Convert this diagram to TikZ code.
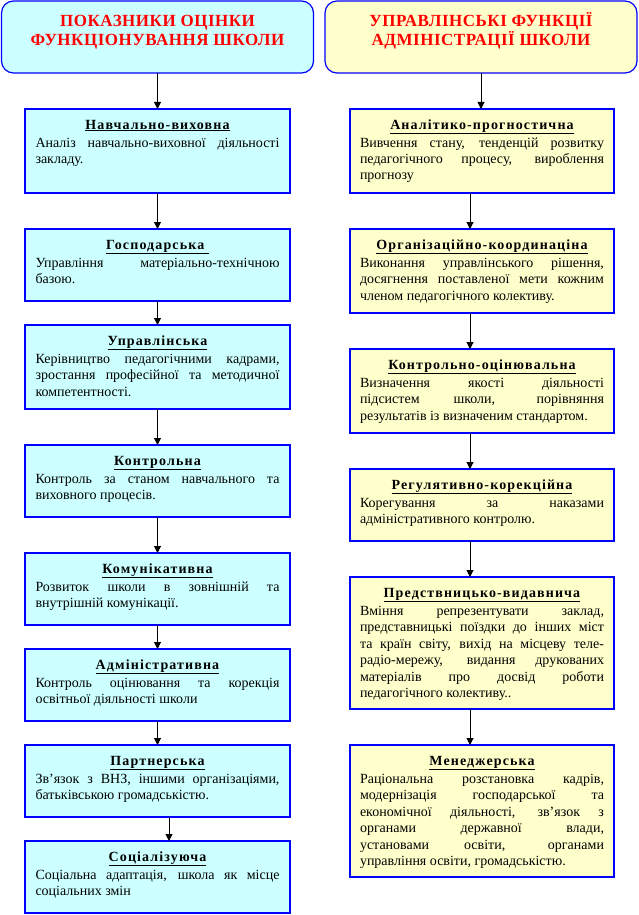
\documentclass[tikz,border=0pt]{standalone}
\usepackage{fontspec}
\setmainfont{Liberation Serif}
\usetikzlibrary{arrows.meta}
\definecolor{bcyan}{HTML}{CCFFFF}
\definecolor{byell}{HTML}{FFFFCC}
\definecolor{bblue}{HTML}{0000FF}
\definecolor{hred}{HTML}{FF0000}
\newcommand\Jl[1]{\makebox[\linewidth][s]{#1}\par}
\newcommand\Ll[1]{#1\par}
\newcommand\Bx[2]{\parbox[t]{244pt}{\fontsize{14pt}{16.5pt}\selectfont\centering{\bfseries\addfontfeature{LetterSpace=8}\underline{#1}}\par\vspace{1.5pt}\raggedright #2}}
\newcommand\Hd[2]{\parbox[t]{305pt}{\fontsize{17pt}{19pt}\selectfont\bfseries\addfontfeature{LetterSpace=3}\centering #1\par #2\par}}
\begin{document}
\begin{tikzpicture}[x=1pt,y=-1pt,
  basebox/.style={draw=bblue,line width=1.2pt,inner sep=0pt,outer sep=0pt},
  boxl/.style={basebox,fill=bcyan,minimum width=265pt},
  boxr/.style={basebox,fill=byell,minimum width=264pt},
  hdr/.style={basebox,rounded corners=12pt,minimum width=312pt,minimum height=72pt},
  txt/.style={anchor=base,inner sep=0pt,outer sep=0pt},
  htxt/.style={anchor=base,inner sep=0pt,text=hred},
  arr/.style={draw=black,line width=1pt,-{Triangle[width=7pt,length=7pt]}}]
\useasboundingbox[fill=white] (0,0) rectangle (638,915);

% headers
\node[hdr,fill=bcyan] (hL) at (157.5,37) {};
\node[htxt] (hLt) at ([yshift=-26pt]hL.north) {\Hd{ПОКАЗНИКИ ОЦІНКИ}{ФУНКЦІОНУВАННЯ ШКОЛИ}};
\node[hdr,fill=byell] (hR) at (481,37) {};
\node[htxt] (hRt) at ([yshift=-26pt]hR.north) {\Hd{УПРАВЛІНСЬКІ ФУНКЦІЇ}{АДМІНІСТРАЦІЇ ШКОЛИ}};

% left column
\node[boxl,minimum height=84pt] (l1) at (157.5,151) {};
\node[txt] (l1t) at ([yshift=-20pt]l1.north) {\Bx{Навчально-виховна}{\Jl{Аналіз навчально-виховної діяльності}\Ll{закладу.}}};
\node[boxl,minimum height=72pt] (l2) at (157.5,265) {};
\node[txt] (l2t) at ([yshift=-20pt]l2.north) {\Bx{Господарська\ }{\Jl{Управління матеріально-технічною}\Ll{базою.}}};
\node[boxl,minimum height=84pt] (l3) at (157.5,367) {};
\node[txt] (l3t) at ([yshift=-20pt]l3.north) {\Bx{Управлінська}{\Jl{Керівництво педагогічними кадрами,}\Jl{зростання професійної та методичної}\Ll{компетентності.}}};
\node[boxl,minimum height=72pt] (l4) at (157.5,481) {};
\node[txt] (l4t) at ([yshift=-20pt]l4.north) {\Bx{Контрольна}{\Jl{Контроль за станом навчального та}\Ll{виховного процесів.}}};
\node[boxl,minimum height=72pt] (l5) at (157.5,589) {};
\node[txt] (l5t) at ([yshift=-20pt]l5.north) {\Bx{Комунікативна}{\Jl{Розвиток школи в зовнішній та}\Ll{внутрішній комунікації.}}};
\node[boxl,minimum height=72pt] (l6) at (157.5,685) {};
\node[txt] (l6t) at ([yshift=-20pt]l6.north) {\Bx{Адміністративна}{\Jl{Контроль оцінювання та корекція}\Ll{освітньої діяльності школи}}};
\node[boxl,minimum height=72pt] (l7) at (157.5,781) {};
\node[txt] (l7t) at ([yshift=-20pt]l7.north) {\Bx{Партнерська}{\Jl{Зв’язок з ВНЗ, іншими організаціями,}\Ll{батьківською громадськістю.}}};
\node[boxl,minimum height=72pt] (l8) at (157.5,877) {};
\node[txt] (l8t) at ([yshift=-20pt]l8.north) {\Bx{Соціалізуюча}{\Jl{Соціальна адаптація, школа як місце}\Ll{соціальних змін}}};

% right column
\node[boxr,minimum height=84pt] (r1) at (482,151) {};
\node[txt] (r1t) at ([yshift=-20pt]r1.north) {\Bx{Аналітико-прогностична}{\Jl{Вивчення стану, тенденцій розвитку}\Jl{педагогічного процесу, вироблення}\Ll{прогнозу}}};
\node[boxr,minimum height=84pt] (r2) at (482,271) {};
\node[txt] (r2t) at ([yshift=-20pt]r2.north) {\Bx{Організаційно-координаціна}{\Jl{Виконання управлінського рішення,}\Jl{досягнення поставленої мети кожним}\Ll{членом педагогічного колективу.}}};
\node[boxr,minimum height=84pt] (r3) at (482,391) {};
\node[txt] (r3t) at ([yshift=-20pt]r3.north) {\Bx{Контрольно-оцінювальна}{\Jl{Визначення якості діяльності}\Jl{підсистем школи, порівняння}\Ll{результатів із визначеним стандартом.}}};
\node[boxr,minimum height=72pt] (r4) at (482,505) {};
\node[txt] (r4t) at ([yshift=-20pt]r4.north) {\Bx{Регулятивно-корекційна}{\Jl{Корегування за наказами}\Ll{адміністративного контролю.}}};
\node[boxr,minimum height=132pt] (r5) at (482,643) {};
\node[txt] (r5t) at ([yshift=-20pt]r5.north) {\Bx{Предствницько-видавнича}{\Jl{Вміння репрезентувати заклад,}\Jl{представницькі поїздки до інших міст}\Jl{та країн світу, вихід на місцеву теле-}\Jl{радіо-мережу, видання друкованих}\Jl{матеріалів про досвід роботи}\Ll{педагогічного колективу..}}};
\node[boxr,minimum height=132pt] (r6) at (482,811) {};
\node[txt] (r6t) at ([yshift=-20pt]r6.north) {\Bx{Менеджерська}{\Jl{Раціональна розстановка кадрів,}\Jl{модернізація господарської та}\Jl{економічної діяльності, зв’язок з}\Jl{органами державної влади,}\Jl{установами освіти, органами}\Ll{управління освіти, громадськістю.}}};

% connectors
\draw[arr] (hL.south) -- (l1.north);
\draw[arr] (l1.south) -- (l2.north);
\draw[arr] (l2.south) -- (l3.north);
\draw[arr] (l3.south) -- (l4.north);
\draw[arr] (l4.south) -- (l5.north);
\draw[arr] (l5.south) -- (l6.north);
\draw[arr] (l6.south) -- (l7.north);
\draw[arr] ([xshift=11.5pt]l7.south) -- ([xshift=11.5pt]l8.north);
\draw[arr] (hR.south) -- (hR.south |- r1.north);
\draw[arr] ([xshift=-12pt]r1.south) -- ([xshift=-12pt]r2.north);
\draw[arr] ([xshift=-12pt]r2.south) -- ([xshift=-12pt]r3.north);
\draw[arr] ([xshift=-12pt]r3.south) -- ([xshift=-12pt]r4.north);
\draw[arr] ([xshift=-12pt]r4.south) -- ([xshift=-12pt]r5.north);
\draw[arr] ([xshift=-12pt]r5.south) -- ([xshift=-12pt]r6.north);
\end{tikzpicture}
\end{document}
